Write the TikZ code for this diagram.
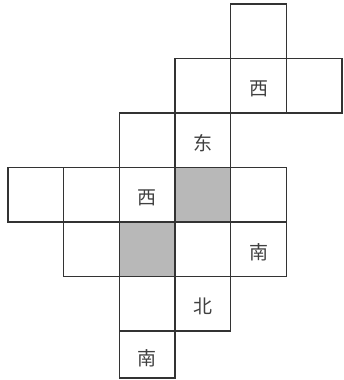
\documentclass[tikz,border=0pt]{standalone}
\usepackage{fontspec}
\newfontfamily\cjk{Noto Sans CJK SC}
\begin{document}
\begin{tikzpicture}[x=1pt,y=1pt,
  cellbox/.style={draw=black!80, line width=1.3pt},
  shaded/.style={cellbox, fill=black!28},
  lbl/.style={font=\cjk\fontsize{19}{19}\selectfont, text=black!75, inner sep=0pt}]
\useasboundingbox (0,0) rectangle (343,380);
\begin{scope}[shift={(8,376)}, x=55.67pt, y=-54.5pt]
  % gray cells
  \fill[black!28] (3,3) rectangle (4,4);
  \fill[black!28] (2,4) rectangle (3,5);
  % white cells
  \foreach \c/\r in {4/0, 3/1,4/1,5/1, 2/2,3/2, 0/3,1/3,2/3,3/3,4/3, 1/4,2/4,3/4,4/4, 2/5,3/5}
    \draw[cellbox] (\c,\r) rectangle ++(1,1);
  \draw[cellbox] (2,6) rectangle (3,6.86);
  % labels
  \node[lbl] (w1) at (4.5,1.55) {西};
  \node[lbl] (e1) at (3.5,2.55) {东};
  \node[lbl] (w2) at (2.5,3.55) {西};
  \node[lbl] (s1) at (4.5,4.55) {南};
  \node[lbl] (n1) at (3.5,5.55) {北};
  \node[lbl] (s2) at (2.5,6.5) {南};
\end{scope}
\end{tikzpicture}
\end{document}
